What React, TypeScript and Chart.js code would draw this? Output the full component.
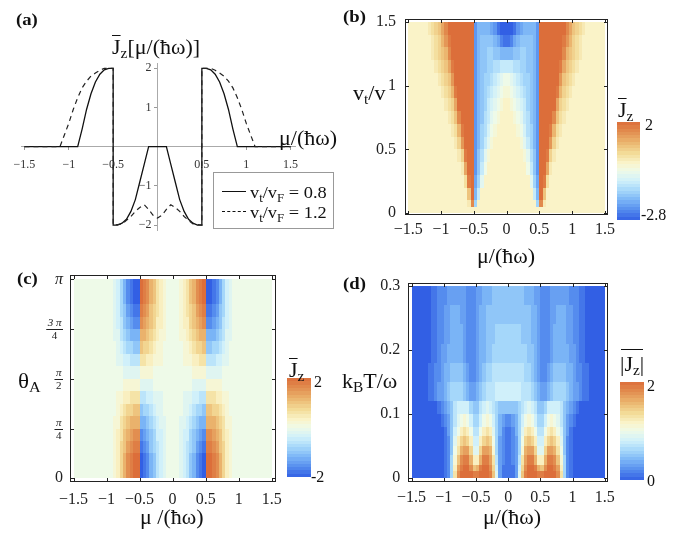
import React, { useEffect, useRef } from 'react';
import { Chart, registerables } from 'chart.js';

Chart.register(...registerables);

const FONT = "'Liberation Serif', 'Times New Roman', Times, serif";
Chart.defaults.font.family = FONT;

// ================= Panel (a): line curves =================
const A_MU_SOLID = [-1.5, -0.9, -0.85, -0.8, -0.75, -0.7, -0.65, -0.6, -0.55, -0.5, -0.5, -0.45, -0.4, -0.35, -0.3, -0.25, -0.2, -0.15, -0.1, 0.1, 0.15, 0.2, 0.25, 0.3, 0.35, 0.4, 0.45, 0.5, 0.5, 0.55, 0.6, 0.65, 0.7, 0.75, 0.8, 0.85, 0.9, 1.5];
const A_J_SOLID = [0, 0, 0.45, 0.95, 1.35, 1.65, 1.85, 1.96, 2, 2, -2, -2, -1.95, -1.85, -1.65, -1.35, -0.9, -0.45, 0, 0, -0.45, -0.9, -1.35, -1.65, -1.85, -1.95, -2, -2, 2, 2, 1.96, 1.85, 1.65, 1.35, 0.95, 0.45, 0, 0];
const A_MU_DASH = [-1.5, -1.1, -1.05, -1.0, -0.95, -0.9, -0.85, -0.8, -0.75, -0.7, -0.65, -0.6, -0.5, -0.5, -0.4, -0.35, -0.3, -0.25, -0.2, -0.15, -0.1, -0.05, 0, 0.05, 0.1, 0.15, 0.2, 0.25, 0.3, 0.35, 0.4, 0.5, 0.5, 0.6, 0.65, 0.7, 0.75, 0.8, 0.85, 0.9, 0.95, 1.0, 1.05, 1.1, 1.5];
const A_J_DASH = [0, 0, 0.3, 0.6, 0.95, 1.25, 1.5, 1.67, 1.8, 1.88, 1.95, 2, 2, -2, -1.97, -1.88, -1.78, -1.65, -1.55, -1.48, -1.6, -1.75, -1.82, -1.75, -1.6, -1.48, -1.55, -1.65, -1.78, -1.88, -1.97, -2, 2, 2, 1.95, 1.88, 1.8, 1.67, 1.5, 1.25, 0.95, 0.6, 0.3, 0, 0];
const A_X_TICKS = [-1.5, -1, -0.5, 0.5, 1, 1.5];
const A_Y_TICKS = [-2, -1, 1, 2];

// ================= Heat maps =================
// Cells: 60 columns of width 0.05 in mu over [-1.5, 1.5].
// Each row = left half (mu<0, right-aligned) + right half (mu>0, left-aligned).
// Level codes: '0'-'9' => 0..9, 'A'.. => 10.., 'a'.. => -1.. ; value = code * step.
const MU_TICKS = [-1.5, -1, -0.5, 0, 0.5, 1, 1.5];

// (b) J_z(mu, v_t/v); step 0.2, range -2.8..2
const B_STEP = 0.2;
const B_RANGE = [-2.8, 2];
const B_Y_TICKS = [0, 0.5, 1, 1.5];
const B_ROW_EDGES = [0, 0.05, 0.1, 0.2, 0.3, 0.4, 0.5, 0.6, 0.7, 0.8, 0.9, 1.0, 1.1, 1.2, 1.3, 1.4, 1.5];
const B_LEFT = [
  '',
  '18g000000000',
  '4Aie00000000',
  '29Ajgc0000000',
  '16AAkheb000000',
  '139AAkhfca00000',
  '137AAAkigeca0000',
  '1259AAAkigfdba000',
  '1248AAAAkihfecba00',
  '1236AAAAAkihgedcba0',
  '12359AAAAAkihgfedcba',
  '12347AAAAAAkihggfedcb',
  '123469AAAAAAkihhggffee',
  '123458AAAAAAAkihhgghhii',
  '123579AAAAAAAkihhhhijlm',
  '123468AAAAAAAAkiiiijkmnn',
];
const B_RIGHT = [
  '',
  '000000000g81',
  '00000000eiA4',
  '0000000cgjA92',
  '000000behkAA61',
  '00000acfhkAA931',
  '0000acegikAAA731',
  '000abdfgikAAA9521',
  '00abcefhikAAAA8421',
  '0abcdeghikAAAAA6321',
  'abcdefghikAAAAA95321',
  'bcdefgghikAAAAAA74321',
  'eeffgghhikAAAAAA964321',
  'iihhgghhikAAAAAAA854321',
  'mljihhhhikAAAAAAA975321',
  'nnmkjiiiikAAAAAAAA864321',
];

// (c) J_z(mu, theta_A); step 0.2, range -2..2; rows of pi/16 from 0 to pi
const C_STEP = 0.2;
const C_RANGE = [-2, 2];
const C_Y_TICKS = [0, Math.PI / 4, Math.PI / 2, (3 * Math.PI) / 4, Math.PI];
const C_Y_LABELS = [['0'], ['π', '4'], ['π', '2'], ['3 π', '4'], ['π']];
const C_ROW_EDGES = Array.from({ length: 17 }, (_, k) => (k * Math.PI) / 16);
const C_LEFT = [
  '124689AAjihfecba00',
  '124689AAjihfecba00',
  '12457899ihgedcba00',
  '12356788hgfedbba00',
  '11345666ffedcbaa00',
  '01234455eddcbaa000',
  '01122333ccbbaaa000',
  '00011111aaaa000000',
  '000aaaaa1111000000',
  '0aabbccc3322111000',
  '0abcddee5443211000',
  'aacdefff6654321100',
  'abcefghh8765422100',
  'abdeghii9875432100',
  'abdfhijjA986532100',
  'abdfhijjA986532100',
];
const C_RIGHT = [
  '00abcefhijAA986421',
  '00abcefhijAA986421',
  '00abcdeghi99875421',
  '00abbdefgh88765321',
  '00aabcdeff66654311',
  '000aabcdde55443210',
  '000aaabbcc33322110',
  '000000aaaa11111000',
  '0000001111aaaaa000',
  '0001112233cccbbaa0',
  '0001123445eeddcba0',
  '0011234566fffedcaa',
  '0012245678hhgfecba',
  '0012345789iihgedba',
  '001235689Ajjihfdba',
  '001235689Ajjihfdba',
];

// (d) |J_z|(mu, k_B T/omega); step 0.1, range 0..2
const D_STEP = 0.1;
const D_RANGE = [0, 2];
const D_Y_TICKS = [0, 0.1, 0.2, 0.3];
const D_ROW_EDGES = [0, 0.01, 0.02, 0.035, 0.05, 0.065, 0.08, 0.1, 0.12, 0.15, 0.18, 0.21, 0.24, 0.27, 0.3];
const D_LEFT = [
  '126DIKKKKJJKKKJF9311',
  '126CHJKKIFGJKKIE8311',
  '126BFIJJGCCGJJHD7321',
  '125ADGHHE99EHHGB6321',
  '1259CEFEC88CEFEA6321',
  '1358ACDCA77ACDC96421',
  '123579ABA8668ABA86432',
  '1234578888655789876555',
  '1123345666654334567778888',
  '1122344555543223456677777',
  '0112334444432223445566666',
  '0112233444432223445556666',
  '0112233444332223445555555',
  '0112223333332223344455555',
];
const D_RIGHT = [
  '1139FJKKKJJKKKKID621',
  '1138EIKKJGFIKKJHC621',
  '1237DHJJGCCGJJIFB621',
  '1236BGHHE99EHHGDA521',
  '1236AEFEC88CEFEC9521',
  '12469CDCA77ACDCA8531',
  '23468ABA8668ABA975321',
  '5556789875568888754321',
  '8888777654334566665433211',
  '7777766543223455554432211',
  '6666665543222344444332110',
  '6666555443222344443322110',
  '5555555443222334443322110',
  '5555544433222333333222110',
];

// ================= helpers =================
const MU_CELL_EDGES = Array.from({ length: 61 }, (_, i) => -1.5 + 0.05 * i);

function levelOf(ch: string): number {
  const c = ch.charCodeAt(0);
  if (c >= 48 && c <= 57) return c - 48;
  if (c >= 65 && c <= 90) return 10 + c - 65;
  return -(c - 96);
}
function decodeRows(left: string[], right: string[], step: number): number[][] {
  return left.map((l, k) =>
    (l.padStart(30, '0') + right[k].padEnd(30, '0')).split('').map((ch) => levelOf(ch) * step)
  );
}

const CMAP: number[][] = [
  [0.0, 50, 95, 228],
  [0.1, 85, 140, 238],
  [0.2, 122, 180, 246],
  [0.3, 165, 215, 250],
  [0.4, 208, 240, 250],
  [0.5, 238, 250, 232],
  [0.58, 250, 244, 202],
  [0.68, 243, 220, 152],
  [0.8, 234, 178, 108],
  [0.9, 226, 142, 80],
  [1.0, 220, 110, 58],
];
function colorOf(v: number, vmin: number, vmax: number): string {
  let t = (v - vmin) / (vmax - vmin);
  t = Math.max(0, Math.min(1, t));
  for (let i = 1; i < CMAP.length; i++) {
    const a = CMAP[i - 1];
    const b = CMAP[i];
    if (t <= b[0] + 1e-9) {
      const f = (t - a[0]) / (b[0] - a[0]);
      return `rgb(${Math.round(a[1] + (b[1] - a[1]) * f)},${Math.round(a[2] + (b[2] - a[2]) * f)},${Math.round(a[3] + (b[3] - a[3]) * f)})`;
    }
  }
  const l = CMAP[CMAP.length - 1];
  return `rgb(${l[1]},${l[2]},${l[3]})`;
}

const fmtTick = (v: number) => (v < 0 ? '\u2212' + Math.abs(v) : String(v));

interface HeatSpec {
  cells: number[][];
  rowEdges: number[];
  range: number[];
  xMin: number; xMax: number; yMin: number; yMax: number;
  yTicks: number[];
  size: { w: number; h: number };
  area: { l: number; r: number; t: number; b: number };
  xPad: number; yPad: number;
  cbar: { x: number; y: number; w: number; h: number; lx: number; ty: number; bx: number; by: number };
  frac?: boolean;
}

function heatPlugin(s: HeatSpec) {
  return {
    id: 'heat',
    beforeDatasetsDraw(chart: any) {
      const { ctx, chartArea: ca } = chart;
      const xs = chart.scales.x;
      const ys = chart.scales.y;
      const [vmin, vmax] = s.range;
      ctx.save();
      s.cells.forEach((row, k) => {
        const yb = Math.round(ys.getPixelForValue(s.rowEdges[k]));
        const yt = Math.round(ys.getPixelForValue(s.rowEdges[k + 1]));
        row.forEach((v, i) => {
          const x0 = Math.round(xs.getPixelForValue(MU_CELL_EDGES[i]));
          const x1 = Math.round(xs.getPixelForValue(MU_CELL_EDGES[i + 1]));
          ctx.fillStyle = colorOf(v, vmin, vmax);
          ctx.fillRect(x0, yt, x1 - x0, yb - yt);
        });
      });
      // frame
      const L = Math.round(ca.left), T = Math.round(ca.top), R = Math.round(ca.right), B = Math.round(ca.bottom);
      ctx.strokeStyle = '#222';
      ctx.lineWidth = 1;
      ctx.strokeRect(L + 0.5, T + 0.5, R - L - 1, B - T - 1);
      ctx.beginPath();
      xs.ticks.forEach((t: any) => {
        const px = Math.round(xs.getPixelForValue(t.value)) + 0.5;
        ctx.moveTo(px, B); ctx.lineTo(px, B - 4);
        ctx.moveTo(px, T); ctx.lineTo(px, T + 4);
      });
      ys.ticks.forEach((t: any) => {
        const py = Math.round(ys.getPixelForValue(t.value)) + 0.5;
        ctx.moveTo(L, py); ctx.lineTo(L + 4, py);
        ctx.moveTo(R, py); ctx.lineTo(R - 4, py);
      });
      ctx.stroke();
      // colour bar
      const cb = s.cbar;
      const N = 30;
      for (let b = 0; b < N; b++) {
        const v = vmin + ((b + 0.5) / N) * (vmax - vmin);
        const y0 = Math.round(cb.y + cb.h * (1 - (b + 1) / N));
        const y1 = Math.round(cb.y + cb.h * (1 - b / N));
        ctx.fillStyle = colorOf(v, vmin, vmax);
        ctx.fillRect(cb.x, y0, cb.w, y1 - y0);
      }
      ctx.fillStyle = '#111';
      ctx.font = `16px ${FONT}`;
      ctx.textAlign = 'left';
      ctx.textBaseline = 'middle';
      ctx.fillText(String(vmax), cb.lx, cb.ty);
      ctx.fillText(String(vmin), cb.bx, cb.by);
      // fraction tick labels (theta axis)
      if (s.frac) {
        const right = L - 7;
        C_Y_TICKS.forEach((val, i) => {
          const py = ys.getPixelForValue(val);
          const lab = C_Y_LABELS[i];
          ctx.fillStyle = '#222';
          if (lab.length === 1) {
            ctx.font = (lab[0] === 'π' ? 'italic ' : '') + `16px ${FONT}`;
            ctx.textAlign = 'right';
            ctx.textBaseline = 'middle';
            ctx.fillText(lab[0], right, py);
          } else {
            ctx.font = `italic 11px ${FONT}`;
            const w = Math.max(ctx.measureText(lab[0]).width, ctx.measureText(lab[1]).width) + 3;
            const cx = right - w / 2;
            ctx.textAlign = 'center';
            ctx.textBaseline = 'alphabetic';
            ctx.fillText(lab[0], cx, py - 3);
            ctx.font = `11px ${FONT}`;
            ctx.fillText(lab[1], cx, py + 10);
            ctx.fillRect(cx - w / 2, Math.round(py), w, 1);
          }
        });
      }
      ctx.restore();
    },
  };
}

function makeHeat(s: HeatSpec): any {
  return {
    type: 'scatter',
    data: { datasets: [{ data: [] }] },
    options: {
      animation: false,
      responsive: false,
      maintainAspectRatio: false,
      events: [],
      layout: { padding: { left: 0, top: s.area.t, right: s.size.w - s.area.r, bottom: 0 } },
      plugins: { legend: { display: false }, tooltip: { enabled: false } },
      scales: {
        x: {
          type: 'linear', position: 'bottom', min: s.xMin, max: s.xMax,
          afterBuildTicks: (sc: any) => { sc.ticks = MU_TICKS.map((v) => ({ value: v })); },
          afterFit: (sc: any) => { sc.height = s.size.h - s.area.b; },
          grid: { display: false, drawTicks: false },
          border: { display: false },
          ticks: { font: { family: FONT, size: 16 }, color: '#222', padding: s.xPad, maxRotation: 0, autoSkip: false, callback: (v: any) => fmtTick(Number(v)) },
        },
        y: {
          type: 'linear', position: 'left', min: s.yMin, max: s.yMax,
          afterBuildTicks: (sc: any) => { sc.ticks = s.yTicks.map((v) => ({ value: v })); },
          afterFit: (sc: any) => { sc.width = s.area.l; },
          grid: { display: false, drawTicks: false },
          border: { display: false },
          ticks: { display: !s.frac, font: { family: FONT, size: 16 }, color: '#222', padding: s.yPad, autoSkip: false, callback: (v: any) => fmtTick(Number(v)) },
        },
      },
    },
    plugins: [heatPlugin(s)],
  };
}

function makeLineA(): any {
  const axisCommon = {
    grid: { display: true, drawOnChartArea: false, drawTicks: true, tickLength: 3, color: '#999' },
    border: { display: true, color: '#aaa', width: 1 },
  };
  return {
    type: 'scatter',
    data: {
      datasets: [
        {
          data: A_MU_DASH.map((x, i) => ({ x, y: A_J_DASH[i] })),
          showLine: true, borderColor: '#222', borderWidth: 1.2, borderDash: [5, 4], pointRadius: 0, tension: 0, fill: false,
        },
        {
          data: A_MU_SOLID.map((x, i) => ({ x, y: A_J_SOLID[i] })),
          showLine: true, borderColor: '#111', borderWidth: 1.3, pointRadius: 0, tension: 0, fill: false,
        },
      ],
    },
    options: {
      animation: false,
      responsive: false,
      maintainAspectRatio: false,
      events: [],
      layout: { padding: { left: 21.8, right: 50, top: 63, bottom: 30 } },
      plugins: { legend: { display: false }, tooltip: { enabled: false } },
      scales: {
        x: {
          type: 'linear', position: { y: 0 }, min: -1.53, max: 1.55,
          afterBuildTicks: (sc: any) => { sc.ticks = A_X_TICKS.map((v) => ({ value: v })); },
          afterFit: (sc: any) => { sc.height = 0; },
          ...axisCommon,
          ticks: { font: { family: FONT, size: 12 }, color: '#333', padding: 8, maxRotation: 0, autoSkip: false, callback: (v: any) => fmtTick(Number(v)) },
        },
        y: {
          type: 'linear', position: { x: 0 }, min: -2.125, max: 2.135,
          afterBuildTicks: (sc: any) => { sc.ticks = A_Y_TICKS.map((v) => ({ value: v })); },
          afterFit: (sc: any) => { sc.width = 0; },
          ...axisCommon,
          ticks: { font: { family: FONT, size: 12 }, color: '#333', padding: 3, autoSkip: false, callback: (v: any) => fmtTick(Number(v)) + '  ' },
        },
      },
    },
  };
}

function ChartCanvas({ left, top, width, height, make }: { left: number; top: number; width: number; height: number; make: () => any }) {
  const ref = useRef<HTMLCanvasElement>(null);
  useEffect(() => {
    const c = new Chart(ref.current as HTMLCanvasElement, make());
    return () => c.destroy();
  }, []);
  return <canvas ref={ref} width={width} height={height} style={{ position: 'absolute', left, top, width, height }} />;
}

const Sub = ({ children }: { children: any }) => (
  <span style={{ fontSize: '0.7em', position: 'relative', top: '0.3em' }}>{children}</span>
);
const Ov = ({ children }: { children: any }) => (
  <span style={{ textDecoration: 'overline', textDecorationThickness: '1px' }}>{children}</span>
);
function Txt({ x, y, size = 20, bold = false, sx = 1.1, children }: { x: number; y: number; size?: number; bold?: boolean; sx?: number; children: any }) {
  return (
    <div
      style={{
        position: 'absolute', left: x, top: y, fontFamily: FONT, fontSize: size, fontWeight: bold ? 'bold' : 'normal',
        lineHeight: 1, whiteSpace: 'nowrap', transform: `scaleX(${sx})`, transformOrigin: 'left top', color: '#111',
      }}
    >
      {children}
    </div>
  );
}

export default function App() {
  const bSpec: HeatSpec = {
    cells: decodeRows(B_LEFT, B_RIGHT, B_STEP), rowEdges: B_ROW_EDGES, range: B_RANGE,
    xMin: -1.55, xMax: 1.547, yMin: -0.01, yMax: 1.525, yTicks: B_Y_TICKS,
    size: { w: 344, h: 260 }, area: { l: 60, r: 263, t: 15, b: 214.5 }, xPad: 6, yPad: 9,
    cbar: { x: 272, y: 122, w: 23, h: 98, lx: 300, ty: 126, bx: 296, by: 216 },
  };
  const cSpec: HeatSpec = {
    cells: decodeRows(C_LEFT, C_RIGHT, C_STEP), rowEdges: C_ROW_EDGES, range: C_RANGE,
    xMin: -1.553, xMax: 1.565, yMin: -0.054, yMax: Math.PI + 0.068, yTicks: C_Y_TICKS,
    size: { w: 345, h: 276 }, area: { l: 70, r: 276, t: 15, b: 221.7 }, xPad: 8, yPad: 7,
    cbar: { x: 287, y: 118, w: 24, h: 99, lx: 314, ty: 123, bx: 311, by: 218 }, frac: true,
  };
  const dSpec: HeatSpec = {
    cells: decodeRows(D_LEFT, D_RIGHT, D_STEP), rowEdges: D_ROW_EDGES, range: D_RANGE,
    xMin: -1.55, xMax: 1.555, yMin: -0.0063, yMax: 0.3052, yTicks: D_Y_TICKS,
    size: { w: 344, h: 276 }, area: { l: 63.3, r: 263.3, t: 22.7, b: 221.7 }, xPad: 6, yPad: 8,
    cbar: { x: 275, y: 122, w: 24, h: 98, lx: 302, ty: 127, bx: 302, by: 222 },
  };

  return (
    <div style={{ position: 'absolute', left: 0, top: 0, width: 689, height: 536, background: '#fff', overflow: 'hidden' }}>
      <ChartCanvas left={0} top={0} width={345} height={260} make={makeLineA} />
      <ChartCanvas left={345} top={0} width={344} height={260} make={() => makeHeat(bSpec)} />
      <ChartCanvas left={0} top={260} width={345} height={276} make={() => makeHeat(cSpec)} />
      <ChartCanvas left={345} top={260} width={344} height={276} make={() => makeHeat(dSpec)} />

      {/* panel labels */}
      <Txt x={16} y={11} size={17} bold>(a)</Txt>
      <Txt x={343} y={8} size={17} bold>(b)</Txt>
      <Txt x={17} y={270} size={17} bold>(c)</Txt>
      <Txt x={343} y={275} size={17} bold>(d)</Txt>

      {/* (a) titles */}
      <Txt x={112} y={36.5}><Ov>J</Ov><Sub>z</Sub>[μ/(ħω)]</Txt>
      <Txt x={279} y={128}>μ/(ħω)</Txt>

      {/* (a) legend */}
      <div style={{ position: 'absolute', left: 213, top: 172, width: 119, height: 55, border: '1px solid #999' }} />
      <div style={{ position: 'absolute', left: 222, top: 191, width: 24, height: 0, borderTop: '1.5px solid #111' }} />
      <div style={{ position: 'absolute', left: 222, top: 211, width: 24, height: 0, borderTop: '1.5px dashed #111' }} />
      <Txt x={250} y={184} size={17} sx={1.08}>v<Sub>t</Sub>/v<Sub>F</Sub> = 0.8</Txt>
      <Txt x={250} y={204} size={17} sx={1.08}>v<Sub>t</Sub>/v<Sub>F</Sub> = 1.2</Txt>

      {/* (b) titles */}
      <Txt x={353} y={83}>v<Sub>t</Sub>/v</Txt>
      <Txt x={477} y={246}>μ/(ħω)</Txt>
      <Txt x={618} y={99.5}><Ov>J</Ov><Sub>z</Sub></Txt>

      {/* (c) titles */}
      <Txt x={18} y={371} size={21}>θ<Sub>A</Sub></Txt>
      <Txt x={140} y={507}>μ /(ħω)</Txt>
      <Txt x={289} y={359.5}><Ov>J</Ov><Sub>z</Sub></Txt>

      {/* (d) titles */}
      <Txt x={342} y={371}>k<Sub>B</Sub>T/ω</Txt>
      <Txt x={483} y={507}>μ/(ħω)</Txt>
      <div style={{ position: 'absolute', left: 621, top: 349, width: 22, height: 1, background: '#111' }} />
      <Txt x={620} y={354}>|J<Sub>z</Sub>|</Txt>
    </div>
  );
}
